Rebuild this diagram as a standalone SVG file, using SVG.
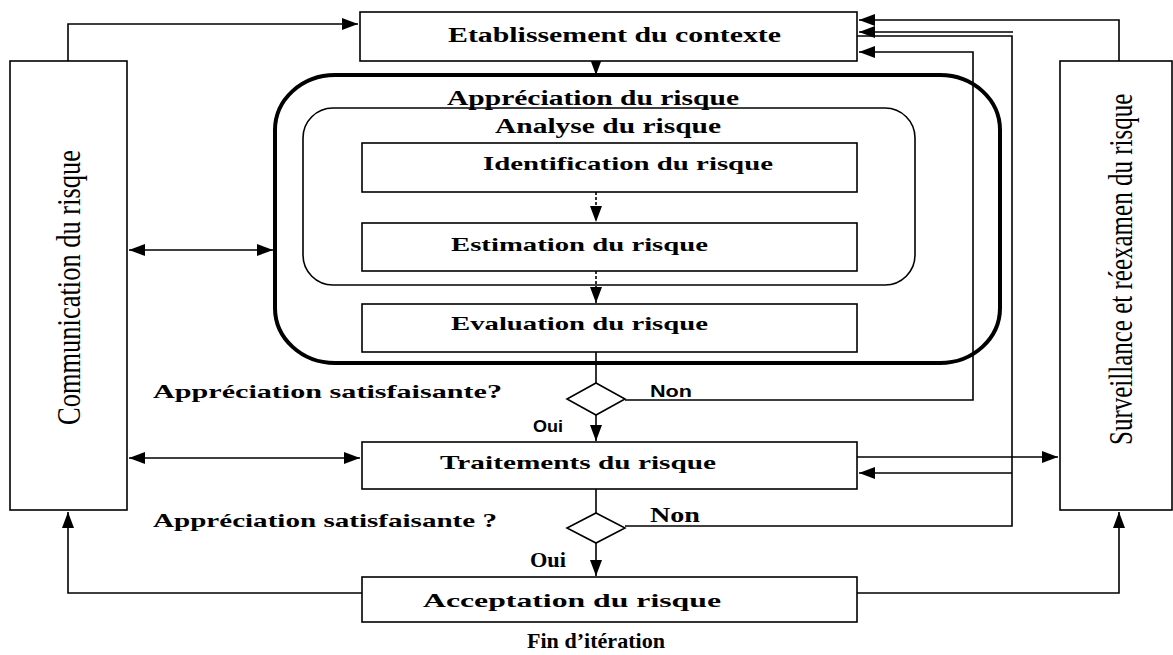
<svg xmlns="http://www.w3.org/2000/svg" width="1173" height="655" viewBox="0 0 1173 655">
  <style>
    .box { fill: #fff; stroke: #000; stroke-width: 1.6; }
    .lbl { font-family: "Liberation Serif", "Times New Roman", serif; font-weight: bold; fill: #000; }
    .side { font-family: "Liberation Serif", "Times New Roman", serif; font-weight: normal; fill: #000; }
    .sans { font-family: "Liberation Sans", Arial, sans-serif; font-weight: bold; fill: #000; }
    .ln { fill: none; stroke: #000; stroke-width: 1.6; }
    .dash { fill: none; stroke: #000; stroke-width: 1.6; stroke-dasharray: 3 2; }
  </style>
  <defs>
    <marker id="ah" markerUnits="userSpaceOnUse" markerWidth="18" markerHeight="14" refX="16" refY="6" orient="auto">
      <path d="M0,0 L16,6 L0,12 Z" fill="#000"/>
    </marker>
    <marker id="ahs" markerUnits="userSpaceOnUse" markerWidth="18" markerHeight="14" refX="16" refY="6" orient="auto-start-reverse">
      <path d="M0,0 L16,6 L0,12 Z" fill="#000"/>
    </marker>
  </defs>
  <rect width="1173" height="655" fill="#fff"/>

  <!-- connectors -->
  <g id="connectors">
    <!-- communication to context -->
    <polyline class="ln" points="68,61 68,24 358,24" marker-end="url(#ah)"/>
    <!-- surveillance to context -->
    <polyline class="ln" points="1119,61 1119,20 859,20" marker-end="url(#ah)"/>
    <!-- second loop back to context -->
    <line class="ln" x1="1013" y1="32" x2="859" y2="32" marker-end="url(#ah)"/>
    <polyline class="ln" points="857,36 1012,36 1012,526 625,526"/>
    <!-- first loop back to context -->
    <polyline class="ln" points="625,400 973,400 973,52 859,52" marker-end="url(#ah)"/>
    <!-- context to assessment -->
    <line class="ln" x1="596" y1="61" x2="596" y2="75" marker-end="url(#ah)"/>
    <!-- inner steps -->
    <line class="dash" x1="596" y1="192" x2="596" y2="222" marker-end="url(#ah)"/>
    <line class="dash" x1="596" y1="271" x2="596" y2="303" marker-end="url(#ah)"/>
    <!-- evaluation to decision 1 -->
    <line class="ln" x1="596" y1="352" x2="596" y2="383"/>
    <line class="ln" x1="596" y1="415" x2="596" y2="441" marker-end="url(#ah)"/>
    <!-- treatment to decision 2 -->
    <line class="ln" x1="596" y1="489" x2="596" y2="513"/>
    <line class="ln" x1="596" y1="543" x2="596" y2="576" marker-end="url(#ah)"/>
    <!-- communication exchanges -->
    <line class="ln" x1="129" y1="250" x2="273" y2="250" marker-start="url(#ahs)" marker-end="url(#ah)"/>
    <line class="ln" x1="129" y1="458" x2="360" y2="458" marker-start="url(#ahs)" marker-end="url(#ah)"/>
    <!-- treatment and surveillance -->
    <line class="ln" x1="857" y1="457" x2="1058" y2="457" marker-end="url(#ah)"/>
    <line class="ln" x1="1012" y1="473" x2="859" y2="473" marker-end="url(#ah)"/>
    <!-- acceptance outputs -->
    <polyline class="ln" points="362,593 68,593 68,512" marker-end="url(#ah)"/>
    <polyline class="ln" points="857,593 1119,593 1119,512" marker-end="url(#ah)"/>
  </g>

  <!-- side panels: vertical condensed titles -->
  <g id="communication">
    <rect class="box" x="10" y="61" width="117" height="449"/>
    <text class="side" font-size="34" transform="translate(80,425) rotate(-90) scale(0.779,1)">Communication du risque</text>
  </g>
  <g id="surveillance">
    <rect class="box" x="1060" y="61" width="112" height="449"/>
    <text class="side" font-size="33" transform="translate(1132,445) rotate(-90) scale(0.758,1)">Surveillance et réexamen du risque</text>
  </g>

  <g id="contexte">
    <rect class="box" x="360" y="12" width="497" height="49"/>
    <text class="lbl" x="448" y="42" font-size="20" textLength="333" lengthAdjust="spacingAndGlyphs">Etablissement du contexte</text>
  </g>

  <!-- risk assessment -->
  <g id="appreciation">
    <rect x="275" y="75" width="725" height="288" rx="60" ry="55" fill="none" stroke="#000" stroke-width="4"/>
    <text class="lbl" x="447" y="105" font-size="20" textLength="292" lengthAdjust="spacingAndGlyphs">Appréciation du risque</text>
  </g>
  <g id="analyse">
    <rect x="303" y="108" width="612" height="177" rx="30" ry="30" fill="none" stroke="#000" stroke-width="1.6"/>
    <text class="lbl" x="495" y="133" font-size="20" textLength="226" lengthAdjust="spacingAndGlyphs">Analyse du risque</text>
  </g>
  <g id="identification">
    <rect class="box" x="362" y="143" width="495" height="49"/>
    <text class="lbl" x="483" y="170" font-size="19" textLength="290" lengthAdjust="spacingAndGlyphs">Identification  du risque</text>
  </g>
  <g id="estimation">
    <rect class="box" x="362" y="223" width="495" height="48"/>
    <text class="lbl" x="451" y="251" font-size="19" textLength="257" lengthAdjust="spacingAndGlyphs">Estimation  du risque</text>
  </g>
  <g id="evaluation">
    <rect class="box" x="362" y="304" width="495" height="48"/>
    <text class="lbl" x="451" y="330" font-size="19" textLength="257" lengthAdjust="spacingAndGlyphs">Evaluation  du risque</text>
  </g>

  <!-- first decision -->
  <g id="decision1">
    <polygon class="box" points="596,383 625,399 596,415 567,399"/>
    <text class="lbl" x="153" y="398" font-size="19" textLength="349" lengthAdjust="spacingAndGlyphs">Appréciation satisfaisante?</text>
    <text class="sans" x="650" y="397" font-size="16" textLength="42" lengthAdjust="spacingAndGlyphs">Non</text>
    <text class="sans" x="533" y="432" font-size="16" textLength="30" lengthAdjust="spacingAndGlyphs">Oui</text>
  </g>

  <g id="traitements">
    <rect class="box" x="362" y="442" width="495" height="47"/>
    <text class="lbl" x="440" y="469" font-size="19" textLength="276" lengthAdjust="spacingAndGlyphs">Traitements  du risque</text>
  </g>

  <!-- second decision -->
  <g id="decision2">
    <polygon class="box" points="596,513 625,528 596,543 567,528"/>
    <text class="lbl" x="153" y="527" font-size="19" textLength="344" lengthAdjust="spacingAndGlyphs">Appréciation  satisfaisante ?</text>
    <text class="lbl" x="650" y="522" font-size="20" textLength="50" lengthAdjust="spacingAndGlyphs">Non</text>
    <text class="lbl" x="530" y="567" font-size="20" textLength="36" lengthAdjust="spacingAndGlyphs">Oui</text>
  </g>

  <g id="acceptation">
    <rect class="box" x="362" y="577" width="495" height="45"/>
    <text class="lbl" x="423" y="607" font-size="19" textLength="298" lengthAdjust="spacingAndGlyphs">Acceptation du risque</text>
  </g>

  <g id="fin">
    <text class="lbl" x="527" y="648" font-size="21" textLength="138" lengthAdjust="spacingAndGlyphs">Fin d’itération</text>
  </g>
</svg>
